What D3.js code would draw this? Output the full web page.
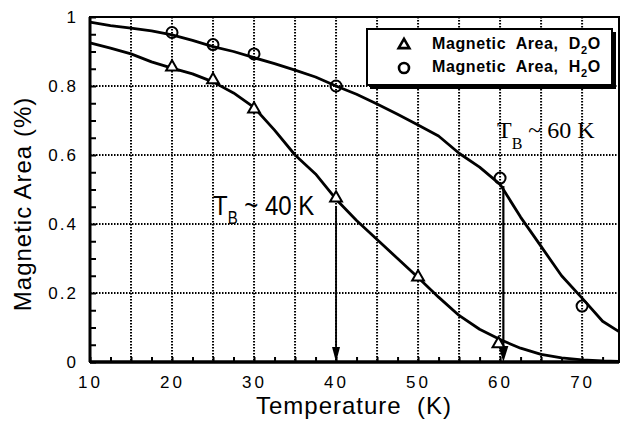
<!DOCTYPE html>
<html>
<head>
<meta charset="utf-8">
<script src="https://cdn.jsdelivr.net/npm/d3@7"></script>
<style>
  html, body { margin: 0; padding: 0; background: #fff; }
  text { font-family: "Liberation Sans", Arial, sans-serif; fill: #000; white-space: pre; }
</style>
</head>
<body>
<svg id="chart" width="620" height="423"></svg>
<script>
// measured curves (temperature in K, magnetic area fraction)
const curveTempD2O = [10, 12.5, 15, 17.5, 20, 22.5, 25, 27.5, 30, 32.5, 35, 37.5, 40, 42.5, 45, 47.5, 50, 52.5, 55, 57.5, 60, 62.5, 65, 67.5, 70, 72.5, 74.5];
const curveAreaD2O = [0.925, 0.91, 0.893, 0.87, 0.852, 0.835, 0.812, 0.78, 0.738, 0.672, 0.6, 0.545, 0.472, 0.41, 0.355, 0.3, 0.245, 0.188, 0.135, 0.095, 0.065, 0.04, 0.022, 0.012, 0.006, 0.003, 0.002];
const curveTempH2O = [10, 12.5, 15, 17.5, 20, 22.5, 25, 27.5, 30, 32.5, 35, 37.5, 40, 42.5, 45, 47.5, 50, 52.5, 55, 57.5, 60, 62.5, 65, 67.5, 70, 72.5, 74.5];
const curveAreaH2O = [0.985, 0.975, 0.968, 0.96, 0.948, 0.932, 0.914, 0.9, 0.882, 0.865, 0.846, 0.826, 0.8, 0.776, 0.748, 0.718, 0.687, 0.655, 0.605, 0.565, 0.515, 0.42, 0.335, 0.25, 0.185, 0.118, 0.088];

// symbols
const markTempD2O = [20, 25, 30, 40, 50, 59.8];
const markAreaD2O = [0.852, 0.815, 0.73, 0.472, 0.243, 0.05];
const markTempH2O = [20, 25, 30, 40, 60, 70];
const markAreaH2O = [0.955, 0.92, 0.893, 0.8, 0.533, 0.162];

// blocking temperature arrows: [temperature, start value]
const arrow40 = [40, 0.45];
const arrow60 = [60.4, 0.51];

const xTickLabels = [10, 20, 30, 40, 50, 60, 70];
const xGrid = [15, 20, 25, 30, 35, 40, 45, 50, 55, 60, 65, 70];
const yTickLabels = [0, 0.2, 0.4, 0.6, 0.8, 1];
const yGrid = [0.2, 0.4, 0.6, 0.8];

const svg = d3.select('#chart');
const mLeft = 90, mRight = 619, mTop = 17, mBottom = 362;

const x = d3.scaleLinear().domain([10, 74.5]).range([mLeft, mRight]);
const y = d3.scaleLinear().domain([0, 1]).range([mBottom, mTop]);

// grid (dotted)
const grid = svg.append('g')
  .attr('stroke', '#000')
  .attr('stroke-width', 2)
  .attr('stroke-dasharray', '1.5,1.5');
grid.selectAll('.vg').data(xGrid).enter().append('line')
  .attr('x1', d => x(d)).attr('x2', d => x(d))
  .attr('y1', mTop).attr('y2', mBottom);
grid.selectAll('.hg').data(yGrid).enter().append('line')
  .attr('x1', mLeft).attr('x2', mRight)
  .attr('y1', d => y(d)).attr('y2', d => y(d));

// minor ticks, pointing inward
const yMinor = d3.range(0, 1.0001, 0.05);
svg.append('g')
  .attr('transform', `translate(${mLeft},0)`)
  .call(d3.axisRight(y).tickValues(yMinor).tickSize(6).tickFormat(''))
  .call(g => g.select('.domain').remove())
  .selectAll('line').attr('stroke-width', 2);
const xMinor = d3.range(10, 74.5, 2.5);
svg.append('g')
  .attr('transform', `translate(0,${mBottom})`)
  .call(d3.axisTop(x).tickValues(xMinor).tickSize(5).tickFormat(''))
  .call(g => g.select('.domain').remove())
  .selectAll('line').attr('stroke-width', 2);

// tick labels
svg.append('g')
  .attr('transform', `translate(${mLeft},0)`)
  .call(d3.axisLeft(y).tickValues(yTickLabels).tickSize(0).tickPadding(12)
    .tickFormat(d => d === 0 || d === 1 ? String(d) : d.toFixed(1)))
  .call(g => g.select('.domain').remove())
  .selectAll('text')
  .style('font-size', '17px').style('letter-spacing', '2px')
  .style('font-family', '"Liberation Sans", Arial, sans-serif');
svg.append('g')
  .attr('transform', `translate(0,${mBottom})`)
  .call(d3.axisBottom(x).tickValues(xTickLabels).tickSize(0).tickPadding(14))
  .call(g => g.select('.domain').remove())
  .selectAll('text')
  .style('font-size', '17px').style('letter-spacing', '3px')
  .style('font-family', '"Liberation Sans", Arial, sans-serif');

// frame
svg.append('rect')
  .attr('x', mLeft).attr('y', mTop)
  .attr('width', mRight - mLeft).attr('height', mBottom - mTop)
  .attr('fill', 'none').attr('stroke', '#000').attr('stroke-width', 2);
svg.append('line').attr('x1', mLeft).attr('x2', mRight).attr('y1', mBottom).attr('y2', mBottom)
  .attr('stroke', '#000').attr('stroke-width', 3.5);
svg.append('line').attr('x1', mLeft).attr('x2', mLeft).attr('y1', mTop).attr('y2', mBottom)
  .attr('stroke', '#000').attr('stroke-width', 3);

// curves
const line = d3.line().x(d => x(d[0])).y(d => y(d[1]));
[[curveTempD2O, curveAreaD2O], [curveTempH2O, curveAreaH2O]].forEach(([t, a]) => {
  svg.append('path')
    .datum(d3.zip(t, a))
    .attr('d', line)
    .attr('fill', 'none')
    .attr('stroke', '#000')
    .attr('stroke-width', 2.8)
    .attr('stroke-linejoin', 'round');
});

// arrows
function arrow(a, headW, headH, lw) {
  const xx = x(a[0]);
  svg.append('line')
    .attr('x1', xx).attr('x2', xx)
    .attr('y1', y(a[1])).attr('y2', mBottom - headH + 2)
    .attr('stroke', '#000').attr('stroke-width', lw);
  svg.append('path')
    .attr('d', `M${xx - headW / 2},${mBottom - headH} L${xx + headW / 2},${mBottom - headH} L${xx},${mBottom} Z`)
    .attr('fill', '#000');
}
arrow(arrow40, 8, 15, 1.8);
arrow(arrow60, 10, 16, 2.2);

// markers
const tri = d3.symbol().type(d3.symbolTriangle).size(60);
svg.append('g').selectAll('path').data(d3.zip(markTempD2O, markAreaD2O)).enter().append('path')
  .attr('d', tri)
  .attr('transform', d => `translate(${x(d[0])},${y(d[1]) - 1})`)
  .attr('fill', '#fff').attr('stroke', '#000').attr('stroke-width', 2);
svg.append('g').selectAll('circle').data(d3.zip(markTempH2O, markAreaH2O)).enter().append('circle')
  .attr('cx', d => x(d[0])).attr('cy', d => y(d[1])).attr('r', 5.5)
  .attr('fill', 'none').attr('stroke', '#000').attr('stroke-width', 2);

// legend
const lg = svg.append('g');
lg.append('rect').attr('x', 370).attr('y', 32).attr('width', 246).attr('height', 57).attr('fill', '#000');
lg.append('rect').attr('x', 367).attr('y', 29).attr('width', 245).attr('height', 56)
  .attr('fill', '#fff').attr('stroke', '#000').attr('stroke-width', 2);
lg.append('path').attr('d', d3.symbol().type(d3.symbolTriangle).size(50))
  .attr('transform', 'translate(404,45)')
  .attr('fill', '#fff').attr('stroke', '#000').attr('stroke-width', 2.6);
lg.append('circle').attr('cx', 404).attr('cy', 68).attr('r', 5)
  .attr('fill', '#fff').attr('stroke', '#000').attr('stroke-width', 2.6);
[['D', 49], ['H', 72]].forEach(([el, yy]) => {
  const t = lg.append('text').attr('x', 432).attr('y', yy)
    .style('font-size', '16px').style('font-weight', 'bold').style('letter-spacing', '0.6px');
  t.append('tspan').text('Magnetic  Area,  ' + el);
  t.append('tspan').attr('dy', 5).style('font-size', '11px').text('2');
  t.append('tspan').attr('dy', -5).text('O');
});

// annotations
const a40 = svg.append('text')
  .attr('transform', 'translate(213,215) scale(1,1.18)')
  .style('font-size', '24px');
a40.append('tspan').text('T');
a40.append('tspan').attr('dy', 8).style('font-size', '15px').text('B');
a40.append('tspan').attr('dy', -8).text(' ~ 40 K');

const a60 = svg.append('text').attr('x', 497).attr('y', 138)
  .style('font-size', '24px').style('font-family', '"Liberation Serif", "Times New Roman", serif');
a60.append('tspan').text('T');
a60.append('tspan').attr('dy', 11).style('font-size', '16px').text('B');
a60.append('tspan').attr('dy', -11).text(' ~ 60 K');

// axis titles
svg.append('text')
  .attr('x', 354).attr('y', 414)
  .attr('text-anchor', 'middle')
  .style('font-size', '24px').style('letter-spacing', '1px')
  .text('Temperature  (K)');
svg.append('text')
  .attr('transform', 'translate(31,204) rotate(-90)')
  .attr('text-anchor', 'middle')
  .style('font-size', '24px').style('letter-spacing', '1px')
  .text('Magnetic Area (%)');
</script>
</body>
</html>
